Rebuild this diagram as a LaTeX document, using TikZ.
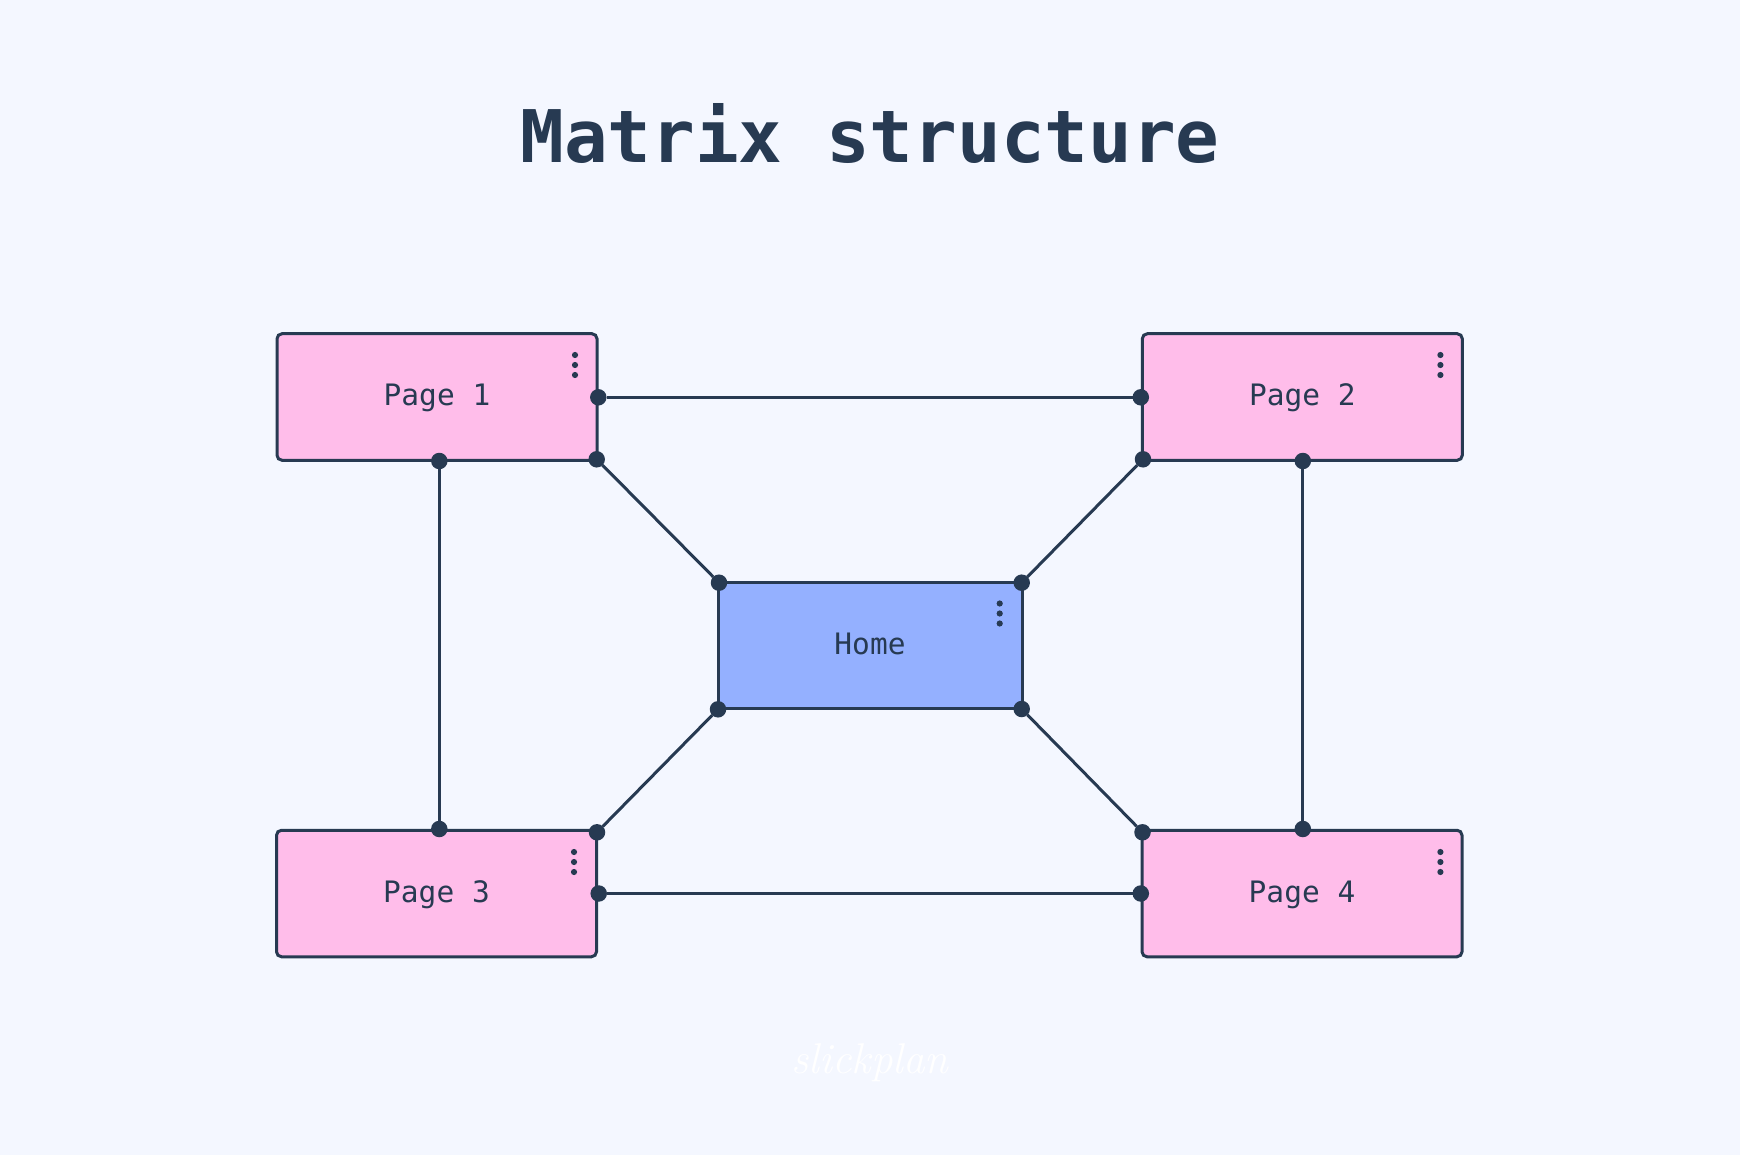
\documentclass[tikz,border=0pt]{standalone}
\usepackage{fontspec}
\setmonofont{DejaVu Sans Mono}
\definecolor{bgc}{HTML}{F4F7FF}
\definecolor{pinkc}{HTML}{FFBDEA}
\definecolor{bluec}{HTML}{94B0FF}
\definecolor{darkc}{HTML}{273A52}
\tikzset{
  x=1pt,y=-1pt,
  box/.style={draw=darkc,line width=3pt,rounded corners=5pt,inner sep=0pt,outer sep=0pt,
    minimum height=126.5pt,text=darkc,text height=24pt,text depth=6pt,font=\ttfamily\fontsize{29.5}{31}\selectfont},
  pagebox/.style={box,fill=pinkc,minimum width=320pt},
  homebox/.style={box,fill=bluec,minimum width=304pt,rounded corners=0pt},
  port/.style={circle,fill=darkc,inner sep=0pt,minimum size=16.5pt,outer sep=0pt},
  menudot/.style={circle,fill=darkc,inner sep=0pt,minimum size=6.2pt},
  link/.style={draw=darkc,line width=3pt},
}
\newcommand{\menudots}[3]{%
  \node[menudot] (#1a) at (#2,#3-10) {};
  \node[menudot] (#1b) at (#2,#3) {};
  \node[menudot] (#1c) at (#2,#3+10) {};}
\begin{document}
\begin{tikzpicture}
\useasboundingbox (0,0) rectangle (1740,1155);
\fill[bgc] (0,0) rectangle (1740,1155);
\node[text=darkc,anchor=base,font=\ttfamily\bfseries\fontsize{72.6}{74}\selectfont] (title) at (870,162.7) {Matrix structure};

\node[pagebox] (p1) at (437,397) {Page 1};
\node[pagebox] (p2) at (1302.3,397) {Page 2};
\node[pagebox] (p3) at (436.5,893.5) {Page 3};
\node[pagebox] (p4) at (1302,893.5) {Page 4};
\node[homebox] (home) at (870,645.5) {Home};

\menudots{ma}{575}{365}
\menudots{mb}{1440.4}{365}
\menudots{mc}{574}{862}
\menudots{md}{1440.4}{862}
\menudots{me}{999.7}{613.5}

\node[port] (p1r) at (598.3,397.3) {};
\node[port] (p1c) at (596.7,459.3) {};
\node[port] (p1b) at (439.3,461) {};
\node[port] (p2l) at (1140.8,397.3) {};
\node[port] (p2c) at (1143,459.3) {};
\node[port] (p2b) at (1302.8,461) {};
\node[port] (p3t) at (439.3,829) {};
\node[port] (p3c) at (597,832.3) {};
\node[port] (p3r) at (598.7,893.5) {};
\node[port] (p4t) at (1302.8,829) {};
\node[port] (p4c) at (1142.5,832.3) {};
\node[port] (p4l) at (1140.8,893.5) {};
\node[port] (htl) at (719,582.7) {};
\node[port] (htr) at (1021.7,582.7) {};
\node[port] (hbl) at (718,709.3) {};
\node[port] (hbr) at (1021.7,709) {};

\draw[link] (p1r) -- (p2l);
\draw[link] (p3r) -- (p4l);
\draw[link] (p1b) -- (p3t);
\draw[link] (p2b) -- (p4t);
\draw[link] (p1c) -- (htl);
\draw[link] (p2c) -- (htr);
\draw[link] (p3c) -- (hbl);
\draw[link] (p4c) -- (hbr);

\node[text=white,anchor=base,font=\itshape\addfontfeatures{FakeBold=2}\fontsize{43}{46}\selectfont] (logo) at (870,1073) {slickplan};
\end{tikzpicture}
\end{document}
